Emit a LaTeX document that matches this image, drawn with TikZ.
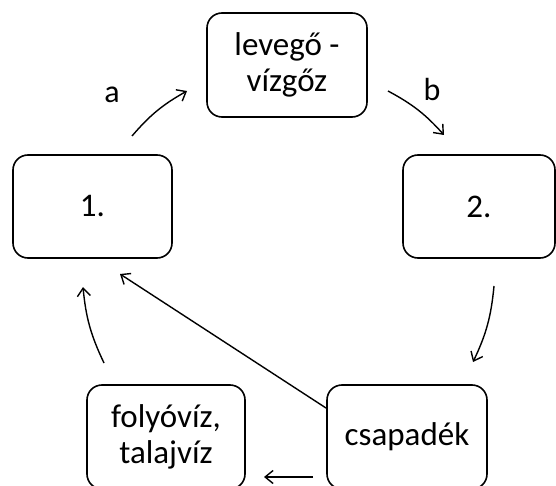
\documentclass[tikz,border=0pt]{standalone}
\usepackage{fontspec}
\setmainfont{Carlito}
\usetikzlibrary{arrows.meta}
\tikzset{
  box/.style={draw, line width=1.6pt, rounded corners=15pt, align=center,
    inner sep=0pt, font=\fontsize{33}{36}\selectfont},
  flow/.style={line width=1.4pt, -{Straight Barb[length=8pt,width=13pt,line width=1.4pt]}},
  lbl/.style={font=\fontsize{32}{36}\selectfont}
}
\begin{document}
\begin{tikzpicture}[x=1pt,y=1pt]
\useasboundingbox (0,0) rectangle (556,485);
\clip (0,0) rectangle (556,485);
\node[box, minimum width=160pt, minimum height=104pt] (lev) at (287,420) {levegő -\\vízgőz};
\node[box, minimum width=159pt, minimum height=103pt] (one) at (92.5,278.5) {1.};
\node[box, minimum width=152pt, minimum height=103pt] (two) at (479,278.5) {2.};
\node[box, minimum width=158pt, minimum height=104pt] (folyo) at (166,48) {folyóvíz,\\talajvíz};
\node[box, minimum width=160pt, minimum height=104pt] (csap) at (407,48) {csapadék};
\coordinate (a1) at (132,349);
\coordinate (a2) at (187,394);
\coordinate (b1) at (388,394);
\coordinate (b2) at (444,350);
\coordinate (r1) at (494,199);
\coordinate (r2) at (473,123);
\coordinate (l1) at (104,122);
\coordinate (l2) at (83,198);
\coordinate (d1) at (326,77);
\coordinate (d2) at (120,211);
\coordinate (m1) at (313,8);
\coordinate (m2) at (264,8);
\draw[flow] (a1) to[bend left=10] (a2);
\draw[flow] (b1) to[bend left=10] (b2);
\draw[flow] (r1) to[bend left=10] (r2);
\draw[flow] (l1) to[bend left=10] (l2);
\draw[flow] (d1) -- (d2);
\draw[flow] (m1) -- (m2);
\node[lbl] (la) at (112,390) {a};
\node[lbl] (lb) at (432,395) {b};
\end{tikzpicture}
\end{document}
